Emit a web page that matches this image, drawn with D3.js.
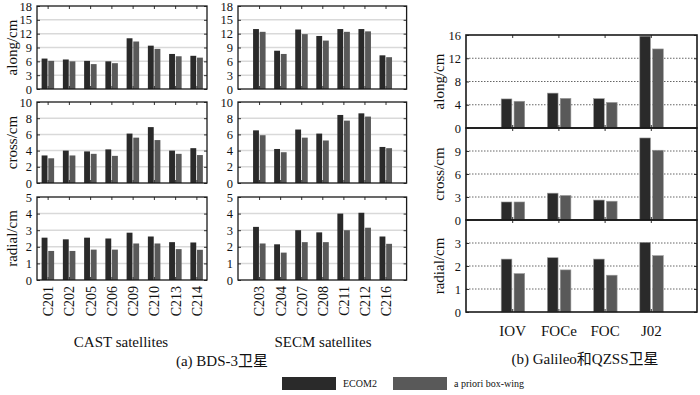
<!DOCTYPE html>
<html>
<head>
<meta charset="utf-8">
<script src="https://cdn.jsdelivr.net/npm/d3@7"></script>
<style>
  body { margin: 0; background: #fff; }
</style>
</head>
<body>
<div id="chart"></div>
<script>
// categories
const castSats = ["C201", "C202", "C205", "C206", "C209", "C210", "C213", "C214"];
const secmSats = ["C203", "C204", "C207", "C208", "C211", "C212", "C216"];
const galSats = ["IOV", "FOCe", "FOC", "J02"];
const seriesNames = ["ECOM2", "a priori box-wing"];

// CAST satellites (cm)
const castAlongEcom = [6.6, 6.4, 6.1, 6.0, 11.0, 9.4, 7.6, 7.2];
const castAlongBox = [6.1, 6.0, 5.4, 5.6, 10.3, 8.7, 7.1, 6.8];
const castCrossEcom = [3.4, 4.0, 3.9, 4.15, 6.1, 6.9, 4.0, 4.3];
const castCrossBox = [3.05, 3.4, 3.6, 3.35, 5.6, 5.3, 3.6, 3.45];
const castRadialEcom = [2.55, 2.45, 2.55, 2.5, 2.85, 2.62, 2.28, 2.26];
const castRadialBox = [1.75, 1.75, 1.83, 1.83, 2.2, 2.2, 1.86, 1.82];

// SECM satellites (cm)
const secmAlongEcom = [13.0, 8.3, 12.9, 11.5, 13.0, 13.0, 7.3];
const secmAlongBox = [12.4, 7.6, 11.9, 10.5, 12.4, 12.5, 6.9];
const secmCrossEcom = [6.5, 4.2, 6.6, 6.1, 8.4, 8.6, 4.45];
const secmCrossBox = [5.9, 3.8, 5.6, 5.25, 7.7, 8.2, 4.3];
const secmRadialEcom = [3.2, 2.15, 3.0, 2.87, 4.0, 4.05, 2.62];
const secmRadialBox = [2.2, 1.65, 2.28, 2.28, 3.0, 3.15, 2.18];

// Galileo / QZSS (cm)
const galAlongEcom = [5.0, 6.0, 5.05, 15.8];
const galAlongBox = [4.6, 5.1, 4.4, 13.6];
const galCrossEcom = [2.35, 3.5, 2.6, 10.7];
const galCrossBox = [2.35, 3.2, 2.45, 9.1];
const galRadialEcom = [2.3, 2.36, 2.3, 3.03];
const galRadialBox = [1.67, 1.83, 1.6, 2.45];

// tick values
const ticksAlong18 = [0, 3, 6, 9, 12, 15, 18];
const ticksCross10 = [0, 2, 4, 6, 8, 10];
const ticksRadial5 = [0, 1, 2, 3, 4, 5];
const ticksAlong16 = [0, 4, 8, 12, 16];
const ticksCross12 = [0, 3, 6, 9];
const ticksRadial4 = [0, 1, 2, 3];

const width = 700, height = 395;
const colors = ["#2a2a2a", "#595959"];
const FONT = '"Liberation Serif", "DejaVu Serif", serif, "Noto Sans CJK SC"';

const svg = d3.select("#chart").append("svg")
  .attr("width", width)
  .attr("height", height);

// one panel = frame, grid, bars, y axis
function panel(opt) {
  const g = svg.append("g");
  const y = d3.scaleLinear().domain([0, opt.yMax]).range([opt.bottom, opt.top]);
  const x = opt.x;
  const sub = d3.scaleBand().domain(seriesNames).range(opt.subRange).paddingInner(opt.subPad);

  // grid lines
  g.selectAll(".grid")
    .data(opt.grid)
    .join("line")
    .attr("x1", x.range()[0]).attr("x2", x.range()[1])
    .attr("y1", d => y(d)).attr("y2", d => y(d))
    .attr("stroke", opt.dotted ? "#666" : "#d9d9d9")
    .attr("stroke-width", opt.dotted ? 1 : 1.5)
    .attr("stroke-dasharray", opt.dotted ? "1.5,1.5" : null);

  // bars
  const rows = opt.cats.map((c, i) => ({ cat: c, vals: [opt.ecom[i], opt.box[i]] }));
  g.selectAll(".grp")
    .data(rows)
    .join("g")
    .attr("transform", d => `translate(${x(d.cat)},0)`)
    .selectAll("rect")
    .data(d => d.vals.map((v, k) => ({ key: seriesNames[k], v: v, k: k })))
    .join("rect")
    .attr("x", d => sub(d.key))
    .attr("width", sub.bandwidth())
    .attr("y", d => y(d.v))
    .attr("height", d => y(0) - y(d.v))
    .attr("fill", d => colors[d.k])
    .attr("stroke", opt.dotted ? "#9a9a9a" : "none")
    .attr("stroke-width", 0.6);

  // inward ticks top and bottom at categories
  g.append("g")
    .attr("transform", `translate(0,${opt.top})`)
    .call(d3.axisTop(x).tickSize(-3).tickFormat(""))
    .call(a => a.select(".domain").remove())
    .selectAll("line").attr("stroke", "#333");
  g.append("g")
    .attr("transform", `translate(0,${opt.bottom})`)
    .call(d3.axisBottom(x).tickSize(-3).tickFormat(""))
    .call(a => a.select(".domain").remove())
    .selectAll("line").attr("stroke", "#333");

  // left axis with labels, right axis ticks only
  const yl = g.append("g")
    .attr("transform", `translate(${x.range()[0]},0)`)
    .call(d3.axisLeft(y).tickValues(opt.ticks).tickSize(-3).tickPadding(5).tickFormat(d3.format("d")));
  yl.select(".domain").remove();
  yl.selectAll("line").attr("stroke", "#333");
  yl.selectAll("text").style("font-size", "12.5px");
  g.append("g")
    .attr("transform", `translate(${x.range()[1]},0)`)
    .call(d3.axisRight(y).tickValues(opt.ticks).tickSize(-3).tickFormat(""))
    .call(a => a.select(".domain").remove())
    .selectAll("line").attr("stroke", "#333");

  // frame
  g.append("rect")
    .attr("x", x.range()[0]).attr("y", opt.top)
    .attr("width", x.range()[1] - x.range()[0])
    .attr("height", opt.bottom - opt.top)
    .attr("fill", "none")
    .attr("stroke", "#1a1a1a")
    .attr("stroke-width", opt.dotted ? 1.6 : 1.3);

  if (opt.title) {
    svg.append("text")
      .attr("transform", `translate(${opt.titleX},${(opt.top + opt.bottom) / 2}) rotate(-90)`)
      .attr("text-anchor", "middle")
      .attr("dy", "0.35em")
      .style("font-size", "15px")
      .text(opt.title);
  }
  return { x: x, y: y };
}

// ---- (a) BDS-3 : CAST and SECM ----
const xCast = d3.scalePoint().domain(castSats).range([37, 207]).padding(0.5);
const xSecm = d3.scalePoint().domain(secmSats).range([238, 406.6]).padding(1);
const xGal = d3.scalePoint().domain(galSats).range([466, 697]).padding(1);

const leftRows = [
  { top: 6, bottom: 89, yMax: 18, ticks: ticksAlong18, title: "along/cm" },
  { top: 102, bottom: 183, yMax: 10, ticks: ticksCross10, title: "cross/cm" },
  { top: 197, bottom: 280, yMax: 5, ticks: ticksRadial5, title: "radial/cm" }
];
const castData = [[castAlongEcom, castAlongBox], [castCrossEcom, castCrossBox], [castRadialEcom, castRadialBox]];
const secmData = [[secmAlongEcom, secmAlongBox], [secmCrossEcom, secmCrossBox], [secmRadialEcom, secmRadialBox]];

leftRows.forEach((r, i) => {
  panel({
    x: xCast, cats: castSats, top: r.top, bottom: r.bottom, yMax: r.yMax,
    ticks: r.ticks, grid: r.ticks.slice(1, -1),
    ecom: castData[i][0], box: castData[i][1],
    subRange: [-6, 6.5], subPad: 0.12,
    title: r.title, titleX: 12
  });
  panel({
    x: xSecm, cats: secmSats, top: r.top, bottom: r.bottom, yMax: r.yMax,
    ticks: r.ticks, grid: r.ticks.slice(1, -1),
    ecom: secmData[i][0], box: secmData[i][1],
    subRange: [-6, 6.5], subPad: 0.12
  });
});

// rotated satellite names
function satLabels(x) {
  svg.append("g")
    .attr("transform", "translate(0,286)")
    .call(d3.axisBottom(x).tickSize(0).tickPadding(0))
    .call(a => a.select(".domain").remove())
    .selectAll("text")
    .style("font-size", "14px")
    .attr("text-anchor", "end")
    .attr("transform", "rotate(-90)")
    .attr("x", 0)
    .attr("y", 0)
    .attr("dy", "0.35em");
}
satLabels(xCast);
satLabels(xSecm);

svg.append("text").attr("x", 121).attr("y", 347).attr("text-anchor", "middle")
  .style("font-size", "15px").text("CAST satellites");
svg.append("text").attr("x", 323).attr("y", 347).attr("text-anchor", "middle")
  .style("font-size", "15px").text("SECM satellites");
svg.append("text").attr("x", 222).attr("y", 366).attr("text-anchor", "middle")
  .style("font-size", "15px").text("(a) BDS-3卫星");

// ---- (b) Galileo and QZSS ----
const rightRows = [
  { top: 35, bottom: 128, yMax: 16, ticks: ticksAlong16, grid: [4, 8, 12], title: "along/cm" },
  { top: 128, bottom: 220, yMax: 12, ticks: ticksCross12, grid: [3, 6, 9], title: "cross/cm" },
  { top: 220, bottom: 312, yMax: 4, ticks: ticksRadial4, grid: [1, 2, 3], title: "radial/cm" }
];
const galData = [[galAlongEcom, galAlongBox], [galCrossEcom, galCrossBox], [galRadialEcom, galRadialBox]];

rightRows.forEach((r, i) => {
  panel({
    x: xGal, cats: galSats, top: r.top, bottom: r.bottom, yMax: r.yMax,
    ticks: r.ticks, grid: r.grid, dotted: true,
    ecom: galData[i][0], box: galData[i][1],
    subRange: [-11, 12.5], subPad: 0.17,
    title: r.title, titleX: 439
  });
});

svg.append("g")
  .attr("transform", "translate(0,325)")
  .call(d3.axisBottom(xGal).tickSize(0).tickPadding(0))
  .call(a => a.select(".domain").remove())
  .selectAll("text")
  .style("font-size", "15px")
  .attr("dy", "0.75em");

svg.append("text").attr("x", 585).attr("y", 364).attr("text-anchor", "middle")
  .style("font-size", "15px").text("(b) Galileo和QZSS卫星");

// legend
const legend = svg.append("g");
const legX = [282, 393];
seriesNames.forEach((name, i) => {
  legend.append("rect")
    .attr("x", legX[i]).attr("y", 377)
    .attr("width", 54).attr("height", 13)
    .attr("fill", colors[i]);
  legend.append("text")
    .attr("x", legX[i] + 61).attr("y", 387)
    .style("font-size", "10px")
    .text(name);
});

// same serif face everywhere, dark text
svg.selectAll("g").attr("font-family", null);
svg.selectAll("text")
  .style("font-family", FONT)
  .attr("fill", "#111");
</script>
</body>
</html>
